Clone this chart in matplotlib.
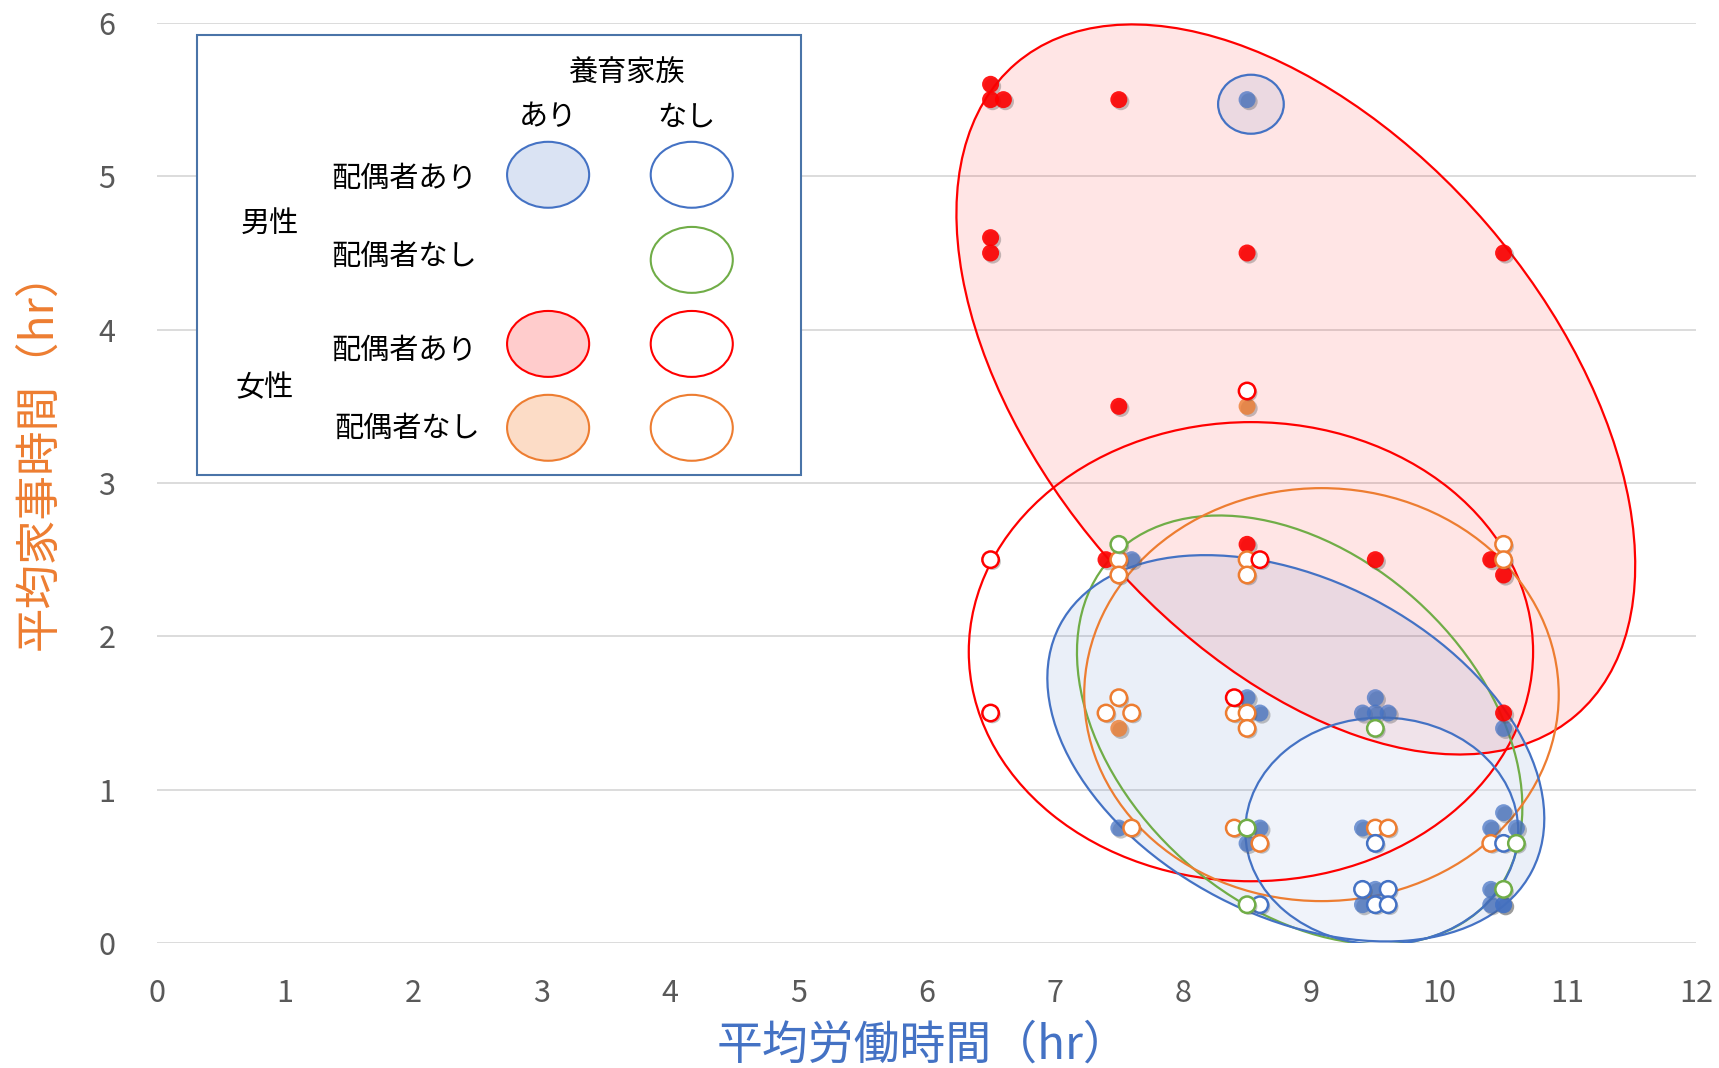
import matplotlib
matplotlib.use('Agg')
import matplotlib.pyplot as plt
import matplotlib.patheffects as pe
from matplotlib.patches import Ellipse, Rectangle
from matplotlib.transforms import Affine2D

plt.rcParams['font.family'] = ['Noto Sans CJK JP', 'DejaVu Sans']

BLUE = '#4472C4'
GREEN = '#70AD47'
RED = '#FF0000'
ORANGE = '#ED7D31'

# データ (労働時間, 家事時間)
male_sy_dy = [(8.5, 5.5), (7.6, 2.5), (8.5, 1.6), (8.6, 1.5), (9.5, 1.6), (9.4, 1.5), (9.5, 1.5),
              (9.6, 1.5), (10.5, 1.4), (7.5, 0.75), (8.6, 0.75), (8.5, 0.65), (9.4, 0.75),
              (10.5, 0.85), (10.4, 0.75), (10.6, 0.75), (9.5, 0.35), (9.4, 0.25), (10.4, 0.35),
              (10.4, 0.25), (10.5, 0.25), (10.5, 0.25)]
male_sy_dn = [(9.5, 0.65), (10.5, 0.65), (8.6, 0.25), (9.4, 0.35), (9.6, 0.35), (9.5, 0.25), (9.6, 0.25)]
male_sn = [(7.5, 2.6), (9.5, 1.4), (8.5, 0.75), (10.6, 0.65), (8.5, 0.25), (10.5, 0.35)]
female_sy_dy = [(6.5, 5.6), (6.5, 5.5), (6.6, 5.5), (7.5, 5.5), (6.5, 4.6), (6.5, 4.5), (8.5, 4.5),
                (10.5, 4.5), (7.5, 3.5), (7.4, 2.5), (8.5, 2.6), (9.5, 2.5), (10.4, 2.5),
                (10.5, 2.4), (10.5, 1.5)]
female_sy_dn = [(8.5, 3.6), (6.5, 2.5), (8.6, 2.5), (6.5, 1.5), (8.4, 1.6)]
female_sn_dy = [(8.5, 3.5), (7.5, 1.4)]
female_sn_dn = [(7.5, 2.5), (7.5, 2.4), (8.5, 2.5), (8.5, 2.4), (10.5, 2.6), (10.5, 2.5),
                (7.5, 1.6), (7.4, 1.5), (7.6, 1.5), (8.4, 1.5), (8.5, 1.5), (8.5, 1.4),
                (7.6, 0.75), (8.4, 0.75), (8.6, 0.65), (9.5, 0.75), (9.6, 0.75), (10.4, 0.65)]

# グループを囲む楕円: 中心x, 中心y, 半径a, 半径b (x単位), 角度, 線色, 塗り色, 塗り透明度
ell_cx = [8.88, 8.53, 8.91, 9.08, 8.88, 9.55, 8.53]
ell_cy = [3.61, 1.90, 1.39, 1.62, 1.27, 0.73, 5.47]
ell_a = [3.35, 2.20, 1.99, 1.85, 2.075, 1.064, 0.256]
ell_b = [1.97, 1.79, 1.36, 1.61, 1.31, 0.885, 0.23]
ell_ang = [-49.3, 0, -42, 0, -27.5, 0, 0]
ell_col = [RED, RED, GREEN, ORANGE, BLUE, BLUE, BLUE]
ell_face = [RED, None, None, None, BLUE, 'white', BLUE]
ell_alpha = [0.1, 0, 0, 0, 0.11, 0.3, 0.1]

xticks = list(range(0, 13))
yticks = list(range(0, 7))

fig = plt.figure(figsize=(17.19, 10.68), dpi=100)
ax = fig.add_axes([0.0913, 0.117, 0.8953, 0.8615])
ax.set_xlim(0, 12)
ax.set_ylim(0, 6)
ax.set_xticks(xticks)
ax.set_yticks(yticks)
ax.tick_params(length=0, labelsize=22, labelcolor='#595959')
ax.tick_params(axis='x', pad=25)
ax.tick_params(axis='y', pad=30)
for s in ax.spines.values():
    s.set_visible(False)
ax.grid(axis='y', color='#D9D9D9', lw=1.3)
ax.set_axisbelow(True)

# 楕円 (画面上の縦横比を補正)
pos = ax.get_position()
k = (pos.height * fig.get_figheight() / 6) / (pos.width * fig.get_figwidth() / 12)
tr = Affine2D().scale(1, 1 / k) + ax.transData
for cx, cy, a, b, ang, c, fc, al in zip(ell_cx, ell_cy, ell_a, ell_b, ell_ang, ell_col, ell_face, ell_alpha):
    if fc is not None:
        ax.add_patch(Ellipse((cx, cy * k), 2 * a, 2 * b, angle=ang, transform=tr,
                             facecolor=matplotlib.colors.to_rgba(fc, al), edgecolor='none', zorder=1))
    ax.add_patch(Ellipse((cx, cy * k), 2 * a, 2 * b, angle=ang, transform=tr,
                         facecolor='none', edgecolor=c, lw=1.6, zorder=2))

shadow = [pe.SimplePatchShadow(offset=(1.5, -1.5), shadow_rgbFace='#555555', alpha=0.35), pe.Normal()]


def pts(data, color, filled, alpha=0.85):
    xs = [p[0] for p in data]
    ys = [p[1] for p in data]
    if filled:
        ax.scatter(xs, ys, s=150, color=color, alpha=alpha, edgecolors='none', zorder=4,
                   path_effects=shadow)
    else:
        ax.scatter(xs, ys, s=140, facecolor='white', edgecolors=color, linewidths=1.8, zorder=5,
                   path_effects=shadow)


pts(female_sn_dn, ORANGE, False)
pts(male_sy_dn, BLUE, False)
pts(male_sn, GREEN, False)
pts(female_sy_dn, RED, False)
pts(male_sy_dy, BLUE, True, 0.72)
pts(female_sy_dy, RED, True, 0.9)
pts(female_sn_dy, ORANGE, True, 0.8)

# 凡例ボックス
ax.add_patch(Rectangle((0.31, 3.05), 4.71, 2.87, facecolor='white', edgecolor='#4A74A8', lw=1.5, zorder=6))
tkw = dict(fontsize=21, color='black', ha='center', va='center', zorder=7)
ax.text(3.66, 5.665, '養育家族', **tkw)
ax.text(3.05, 5.385, 'あり', **tkw)
ax.text(4.13, 5.385, 'なし', **tkw)
ax.text(0.88, 4.69, '男性', **tkw)
ax.text(0.84, 3.62, '女性', **tkw)
ax.text(1.93, 4.985, '配偶者あり', **tkw)
ax.text(1.93, 4.475, '配偶者なし', **tkw)
ax.text(1.93, 3.865, '配偶者あり', **tkw)
ax.text(1.95, 3.355, '配偶者なし', **tkw)

leg = [(3.05, 5.01, '#DAE3F3', BLUE), (4.17, 5.01, 'white', BLUE), (4.17, 4.455, 'white', GREEN),
       (3.05, 3.907, '#FFCCCC', RED), (4.17, 3.907, 'white', RED),
       (3.05, 3.36, '#FCDCC6', ORANGE), (4.17, 3.36, 'white', ORANGE)]
for lx, ly, fc, ec in leg:
    ax.add_patch(Ellipse((lx, ly), 0.64, 0.43, facecolor=fc, edgecolor=ec, lw=1.5, zorder=7))

ax.set_xlabel('平均労働時間（hr）', fontsize=33, color=BLUE)
ax.xaxis.set_label_coords(0.498, -0.111)
ax.xaxis.label.set_va('center')
ax.set_ylabel('平均家事時間（hr）', fontsize=32, color=ORANGE)
ax.yaxis.set_label_coords(-0.0773, 0.536)
ax.yaxis.label.set_va('center')

fig.savefig('out.png', dpi=100)
